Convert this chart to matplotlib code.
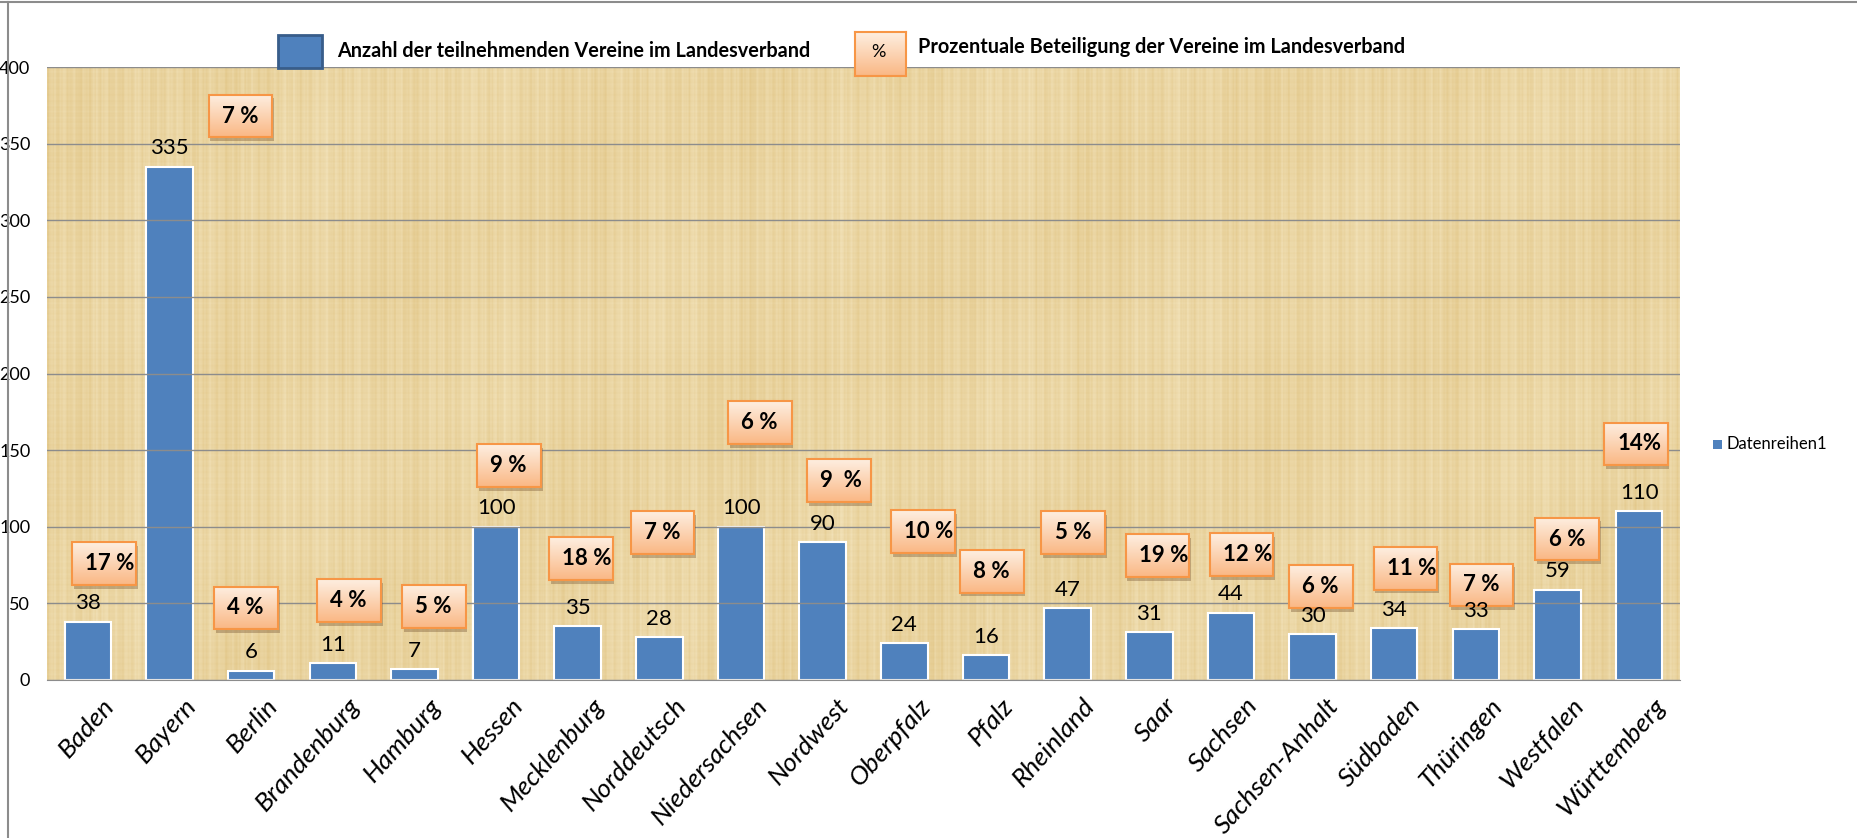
import numpy as np
import matplotlib
matplotlib.use("Agg")
import matplotlib.pyplot as plt
import matplotlib.transforms as mtransforms
from matplotlib.patches import Rectangle

# Data
regions = ["Baden", "Bayern", "Berlin", "Brandenburg", "Hamburg", "Hessen",
           "Mecklenburg", "Norddeutsch", "Niedersachsen", "Nordwest", "Oberpfalz",
           "Pfalz", "Rheinland", "Saar", "Sachsen", "Sachsen-Anhalt", "Südbaden",
           "Thüringen", "Westfalen", "Württemberg"]
vereine = [38, 335, 6, 11, 7, 100, 35, 28, 100, 90, 24, 16, 47, 31, 44, 30, 34, 33, 59, 110]
pct_labels = ["17 %", "7 %", "4 %", "4 %", "5 %", "9 %", "18 %", "7 %", "6 %", "9  %",
              "10 %", "8 %", "5 %", "19 %", "12 %", "6 %", "11 %", "7 %", "6 %", "14%"]

# where the percent boxes sit (box centre: offset from category, height in data units)
pct_dx = [0.20, 0.87, -0.06, 0.20, 0.24, 0.16, 0.04, 0.04, 0.23, 0.20,
          0.23, 0.07, 0.07, 0.10, 0.13, 0.10, 0.14, 0.07, 0.12, -0.04]
pct_y = [76, 368, 47, 52, 48, 140, 79, 96, 168, 130,
         97, 71, 96, 81, 82, 61, 73, 62, 92, 154]

W, H = 1857, 838
FONT = ["Lato", "DejaVu Sans"]
plt.rcParams["font.family"] = FONT

def fx(px):
    return px / W

def fy(py):
    return 1 - py / H

fig = plt.figure(figsize=(W / 100, H / 100), dpi=100)
fig.patch.set_facecolor("white")

x0, x1, ytop, ybot = 47, 1680, 67, 680
ax = fig.add_axes([fx(x0), fy(ybot), fx(x1 - x0), (ybot - ytop) / H])

# papyrus-like background (deterministic fibre stripes)
tw, th = 1600, 600
xx = np.arange(tw)[None, :]
yy = np.arange(th)[:, None]
v = (np.sin(xx * 0.61 + 1.3) + 0.8 * np.sin(xx * 1.37 + 0.4) + 0.6 * np.sin(xx * 0.173 + 2.0)
     + 0.5 * np.sin(xx * 2.31 + 0.2) + 0.5 * np.sin(xx * 0.037 + 1.1))
h = 0.6 * np.sin(yy * 0.97 + 0.8) + 0.4 * np.sin(yy * 2.11 + 1.7) + 0.3 * np.sin(yy * 0.09)
t = 0.48 + 0.09 * v + 0.06 * h + 0.05 * np.sin(xx * 0.011 + yy * 0.02)
t = np.clip(t, 0, 1)[..., None]
light = np.array([0.960, 0.905, 0.760])
dark = np.array([0.875, 0.760, 0.500])
tex = light * (1 - t) + dark * t
ax.imshow(tex, extent=(-0.5, len(regions) - 0.5, 0, 400), aspect="auto", zorder=0,
          interpolation="bilinear")

pos = np.arange(len(regions))
ax.bar(pos, vereine, width=0.57, color="#4f81bd", edgecolor="white", linewidth=1.5, zorder=2)

for i, val in enumerate(vereine):
    ax.annotate(str(val), (pos[i], val), xytext=(0, 6), textcoords="offset points",
                ha="center", va="bottom", fontsize=16, zorder=5)

# percent boxes with orange gradient
grad = np.linspace(0, 1, 50)[:, None, None]
top_c = np.array([0.995, 0.935, 0.880])
bot_c = np.array([0.980, 0.720, 0.520])
box_img = top_c * (1 - grad) + bot_c * grad
bw, bh = 0.78, 28
for i, lab in enumerate(pct_labels):
    cx = pos[i] + pct_dx[i]
    cy = pct_y[i]
    ax.add_patch(Rectangle((cx - bw / 2 + 0.02, cy - bh / 2 - 2.5), bw, bh,
                           facecolor="#6b4a2a", alpha=0.35, edgecolor="none", zorder=3))
    ax.imshow(box_img, extent=(cx - bw / 2, cx + bw / 2, cy - bh / 2, cy + bh / 2),
              aspect="auto", zorder=4)
    ax.add_patch(Rectangle((cx - bw / 2, cy - bh / 2), bw, bh, facecolor="none",
                           edgecolor="#f79646", linewidth=1.5, zorder=4.5))
    ax.text(cx - bw / 2 + 0.16, cy, lab, ha="left", va="center", fontsize=16,
            fontweight="bold", zorder=5)

ax.set_xlim(-0.5, len(regions) - 0.5)
ax.set_ylim(0, 400)
ax.set_yticks(range(0, 401, 50))
ax.yaxis.grid(True, color="#8c8c8c", linewidth=1)
ax.set_axisbelow(False)
for gl in ax.get_ygridlines():
    gl.set_zorder(1)
for s in ["top", "left", "right"]:
    ax.spines[s].set_visible(False)
ax.spines["bottom"].set_color("#8c8c8c")
ax.spines["bottom"].set_zorder(6)
ax.tick_params(axis="y", length=0, pad=12, labelsize=13)
ax.tick_params(axis="x", length=0, pad=10)
ax.set_xticks(pos)
ax.set_xticklabels(regions, rotation=48, ha="right", rotation_mode="anchor",
                   fontsize=19, style="italic")
shift = mtransforms.ScaledTranslation(14 / 100, 0, fig.dpi_scale_trans)
for lab in ax.get_xticklabels():
    lab.set_transform(lab.get_transform() + shift)

# top legend
fig.add_artist(Rectangle((fx(278), fy(68)), fx(44), (68 - 35) / H, transform=fig.transFigure,
                         facecolor="#4f81bd", edgecolor="#385d8a", linewidth=2))
fig.text(fx(337), fy(51), "Anzahl der teilnehmenden Vereine im Landesverband",
         ha="left", va="center", fontsize=14.3, fontweight="bold")
leg_grad = fig.add_axes([fx(855), fy(76), fx(51), (76 - 32) / H])
leg_grad.imshow(box_img, aspect="auto", extent=(0, 1, 0, 1))
leg_grad.set_xticks([])
leg_grad.set_yticks([])
for s in leg_grad.spines.values():
    s.set_color("#f79646")
    s.set_linewidth(1.5)
leg_grad.text(0.45, 0.55, "%", ha="center", va="center", fontsize=13,
              transform=leg_grad.transAxes)
fig.text(fx(918), fy(47), "Prozentuale Beteiligung der Vereine im Landesverband",
         ha="left", va="center", fontsize=14.3, fontweight="bold")

# right legend
fig.add_artist(Rectangle((fx(1713), fy(449)), fx(9), 9 / H, transform=fig.transFigure,
                         facecolor="#4f81bd", edgecolor="none"))
fig.text(fx(1726), fy(444), "Datenreihen1", ha="left", va="center", fontsize=12)

# outer frame lines
fig.add_artist(plt.Line2D([0, 1], [fy(2), fy(2)], transform=fig.transFigure,
                          color="#8c8c8c", linewidth=1.5))
fig.add_artist(plt.Line2D([fx(8), fx(8)], [0, fy(2)], transform=fig.transFigure,
                          color="#8c8c8c", linewidth=1.5))

fig.savefig("out.png", dpi=100)
